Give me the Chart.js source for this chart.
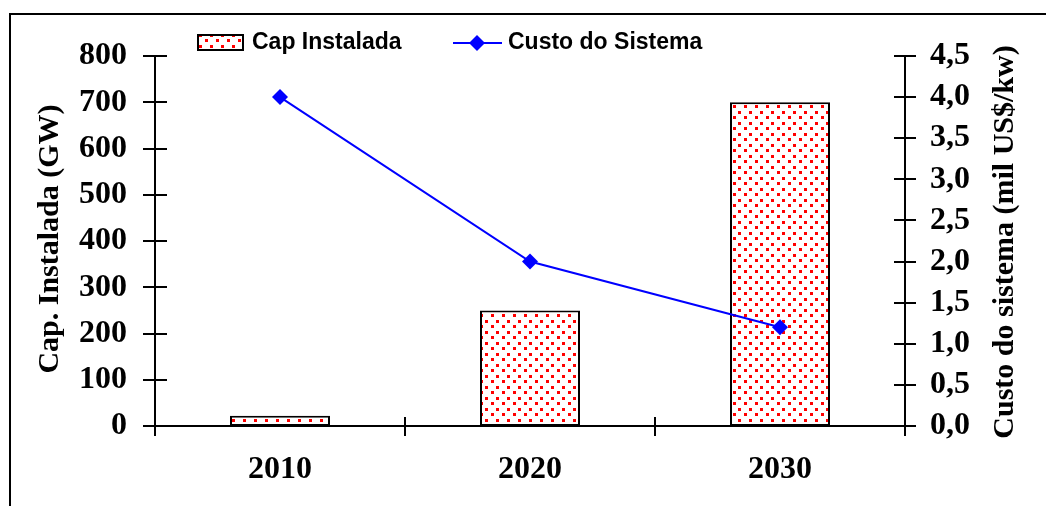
<!DOCTYPE html>
<html>
<head>
<meta charset="utf-8">
<script src="https://cdn.jsdelivr.net/npm/chart.js@4.4.1/dist/chart.umd.min.js"></script>
<style>
  html, body { margin: 0; padding: 0; background: #fff; }
  canvas { display: block; }
</style>
</head>
<body>
<canvas id="grafico" width="1046" height="506"></canvas>
<script>
// dati
const anni = ["2010", "2020", "2030"];
const capInstalada = [22, 250, 700];      // GW
const custoSistema = [4.0, 2.0, 1.2];     // mil US$/kw
const tickCap = [0, 100, 200, 300, 400, 500, 600, 700, 800];
const tickCusto = [0, 0.5, 1, 1.5, 2, 2.5, 3, 3.5, 4, 4.5];

const serif = "'Liberation Serif', 'Times New Roman', serif";
const sans = "'Liberation Sans', Arial, sans-serif";

// motivo a puntini rossi per le barre
function puntini() {
  const c = document.createElement("canvas");
  c.width = 11; c.height = 11;
  const g = c.getContext("2d");
  g.fillStyle = "#fff";
  g.fillRect(0, 0, 11, 11);
  g.fillStyle = "#ff0000";
  g.fillRect(1, 1, 3, 3);
  g.fillRect(7, 6, 3, 3);
  return g.createPattern(c, "repeat");
}
const motivo = puntini();

// cornice, tacche incrociate, titoli degli assi e legenda
const extra = {
  id: "extra",
  beforeDraw(chart) {
    const ctx = chart.ctx;
    ctx.save();
    ctx.strokeStyle = "#000";
    ctx.lineWidth = 2;
    ctx.beginPath();
    ctx.moveTo(10, 506);
    ctx.lineTo(10, 14);
    ctx.lineTo(1046, 14);
    ctx.stroke();
    ctx.restore();
  },
  afterDraw(chart) {
    const ctx = chart.ctx;
    const { x, y, y1 } = chart.scales;
    ctx.save();
    ctx.strokeStyle = "#000";
    ctx.lineWidth = 2;
    ctx.beginPath();
    tickCap.forEach(v => {
      const py = Math.round(y.getPixelForValue(v));
      ctx.moveTo(x.left - 12, py); ctx.lineTo(x.left + 12, py);
    });
    tickCusto.forEach(v => {
      const py = Math.round(y1.getPixelForValue(v));
      ctx.moveTo(x.right - 11, py); ctx.lineTo(x.right + 11, py);
    });
    const passo = x.width / anni.length;
    for (let i = 0; i <= anni.length; i++) {
      const px = Math.round(x.left + i * passo);
      ctx.moveTo(px, x.top - 9); ctx.lineTo(px, x.top + 10);
    }
    ctx.stroke();

    // titoli degli assi (entrambi letti dal basso verso l'alto)
    ctx.fillStyle = "#000";
    ctx.font = "bold 30px " + serif;
    ctx.textAlign = "center";
    ctx.textBaseline = "middle";
    ctx.save();
    ctx.translate(50, 239);
    ctx.rotate(-Math.PI / 2);
    ctx.fillText("Cap. Instalada (GW)", 0, 0);
    ctx.restore();
    ctx.save();
    ctx.translate(1005, 242);
    ctx.rotate(-Math.PI / 2);
    ctx.fillText("Custo do sistema (mil US$/kw)", 0, 0);
    ctx.restore();

    // legenda
    ctx.fillStyle = motivo;
    ctx.fillRect(198, 35, 45, 15);
    ctx.strokeRect(198, 35, 45, 15);
    ctx.fillStyle = "#000";
    ctx.font = "bold 23px " + sans;
    ctx.textAlign = "left";
    ctx.fillText("Cap Instalada", 252, 43);
    ctx.strokeStyle = "#0000ff";
    ctx.beginPath();
    ctx.moveTo(453, 43); ctx.lineTo(502, 43);
    ctx.stroke();
    ctx.fillStyle = "#0000ff";
    ctx.beginPath();
    ctx.moveTo(477, 35); ctx.lineTo(485, 43); ctx.lineTo(477, 51); ctx.lineTo(469, 43);
    ctx.closePath();
    ctx.fill();
    ctx.fillStyle = "#000";
    ctx.fillText("Custo do Sistema", 508, 43);
    ctx.restore();
  }
};

new Chart(document.getElementById("grafico"), {
  data: {
    labels: anni,
    datasets: [
      {
        type: "line",
        label: "Custo do Sistema",
        data: custoSistema,
        yAxisID: "y1",
        borderColor: "#0000ff",
        backgroundColor: "#0000ff",
        borderWidth: 2,
        pointStyle: "rectRot",
        pointRadius: 8,
        pointBorderWidth: 0,
        tension: 0,
        order: 0
      },
      {
        type: "bar",
        label: "Cap Instalada",
        data: capInstalada,
        yAxisID: "y",
        backgroundColor: motivo,
        borderColor: "#000",
        borderWidth: 2,
        borderSkipped: false,
        categoryPercentage: 1,
        barPercentage: 0.4,
        order: 1
      }
    ]
  },
  options: {
    responsive: false,
    animation: false,
    layout: { padding: { top: 56, left: 0, right: 0, bottom: 0 } },
    plugins: { legend: { display: false }, tooltip: { enabled: false } },
    scales: {
      x: {
        grid: { display: false, drawTicks: false },
        border: { display: true, color: "#000", width: 2 },
        ticks: { color: "#000", font: { family: serif, size: 32, weight: "bold" }, padding: 25 },
        afterFit(s) { s.height = 80; }
      },
      y: {
        position: "left",
        min: 0, max: 800,
        grid: { display: false, drawTicks: false },
        border: { display: true, color: "#000", width: 2 },
        ticks: {
          stepSize: 100, autoSkip: false, color: "#000", padding: 28,
          font: { family: serif, size: 32, weight: "bold" }
        },
        afterFit(s) { s.width = 155; }
      },
      y1: {
        position: "right",
        min: 0, max: 4.5,
        grid: { display: false, drawTicks: false },
        border: { display: true, color: "#000", width: 2 },
        ticks: {
          stepSize: 0.5, autoSkip: false, color: "#000", padding: 25,
          font: { family: serif, size: 32, weight: "bold" },
          callback: v => v.toFixed(1).replace(".", ",")
        },
        afterFit(s) { s.width = 141; }
      }
    }
  },
  plugins: [extra]
});
</script>
</body>
</html>
